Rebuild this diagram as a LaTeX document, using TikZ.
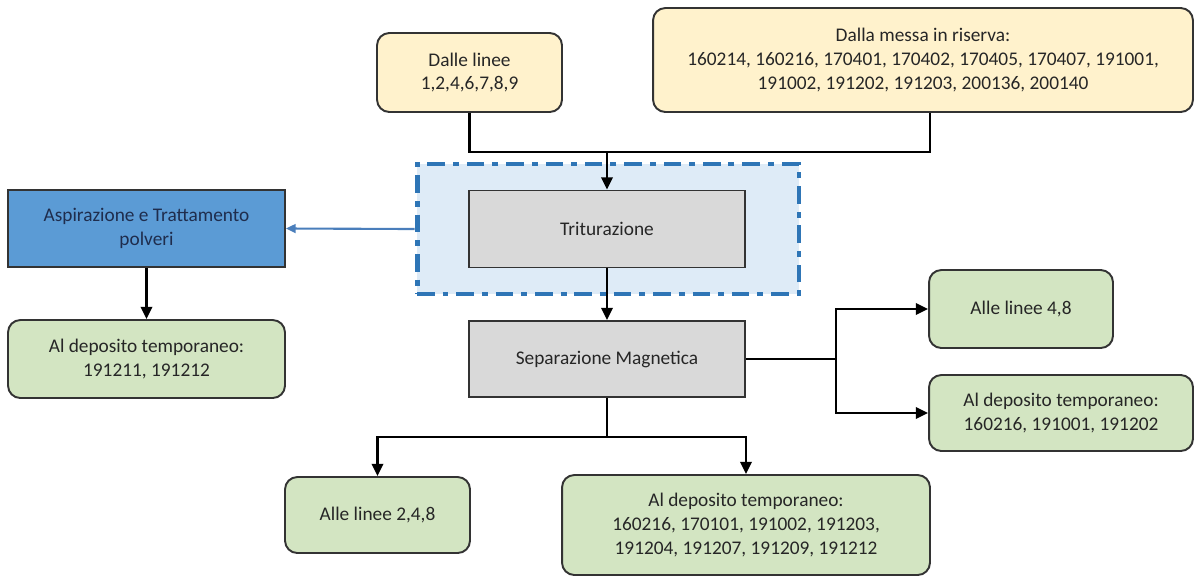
\documentclass[tikz,border=0pt]{standalone}
\usepackage{fontspec}
\setmainfont{Carlito}
\usetikzlibrary{arrows.meta}
\definecolor{yfill}{HTML}{FFF2CC}
\definecolor{gfill}{HTML}{D3E5C2}
\definecolor{bfill}{HTML}{5B9BD5}
\definecolor{grfill}{HTML}{D9D9D9}
\definecolor{lbfill}{HTML}{DEEBF7}
\definecolor{dashblue}{HTML}{2E75B6}
\definecolor{edge}{HTML}{333333}
\definecolor{txt}{HTML}{262626}
\definecolor{asptxt}{HTML}{1F2D4D}
\definecolor{bluearrow}{HTML}{4A7EBB}
\tikzset{
  base/.style={draw=edge, line width=1.1pt, inner sep=0pt, align=center, text=txt,
    font=\fontsize{11}{13.6}\selectfont},
  ybox/.style={base, fill=yfill, rounded corners=7pt},
  gbox/.style={base, fill=gfill, rounded corners=7pt},
  graybox/.style={base, fill=grfill},
  bluebox/.style={base, fill=bfill, text=asptxt},
  dashbox/.style={draw=dashblue, fill=lbfill, line width=2.8pt,
    dash pattern=on 10pt off 4.5pt on 3.4pt off 4.5pt},
  arr/.style={line width=1.4pt, -{Triangle[length=7pt,width=6.5pt]}},
  ln/.style={line width=1.4pt},
  barr/.style={line width=1.2pt, draw=bluearrow, -{Triangle[length=5.5pt,width=5pt]}}
}
\begin{document}
\begin{tikzpicture}[x=0.02cm, y=-0.02cm]
\useasboundingbox (0,0) rectangle (1195,576);
% inputs
\node[ybox, minimum width=3.7cm, minimum height=1.58cm] (dalle) at (469.5,72.5) {Dalle linee\\1,2,4,6,7,8,9};
\node[ybox, minimum width=10.8cm, minimum height=2.08cm] (messa) at (923,60) {Dalla messa in riserva:\\160214, 160216, 170401, 170402, 170405, 170407, 191001,\\191002, 191202, 191203, 200136, 200140};
% dashed area
\node[dashbox, minimum width=7.64cm, minimum height=2.6cm] (area) at (608,229) {};
\node[graybox, minimum width=5.52cm, minimum height=1.54cm] (trit) at (607,229) {Triturazione};
\node[graybox, minimum width=5.52cm, minimum height=1.52cm] (sep) at (607,359) {Separazione Magnetica};
% left
\node[bluebox, minimum width=5.54cm, minimum height=1.54cm] (asp) at (146.5,228.5) {Aspirazione e Trattamento\\polveri};
\node[gbox, minimum width=5.54cm, minimum height=1.56cm] (depL) at (146.5,359) {Al deposito temporaneo:\\191211, 191212};
% right
\node[gbox, minimum width=3.68cm, minimum height=1.56cm] (a48) at (1021,309) {Alle linee 4,8};
\node[gbox, minimum width=5.28cm, minimum height=1.52cm] (depR) at (1061,413) {Al deposito temporaneo:\\160216, 191001, 191202};
% bottom
\node[gbox, minimum width=3.7cm, minimum height=1.52cm] (a248) at (377.5,515) {Alle linee 2,4,8};
\node[gbox, minimum width=7.36cm, minimum height=2.0cm] (depB) at (746,525) {Al deposito temporaneo:\\160216, 170101, 191002, 191203,\\191204, 191207, 191209, 191212};
% junctions
\coordinate (j1) at (607,152);
\coordinate (j2) at (836,359);
\coordinate (j3) at (607,437);
% connectors
\draw[ln] (dalle.south) |- (j1);
\draw[ln] ([xshift=0.14cm]messa.south) |- (j1);
\draw[arr] (j1) -- (trit.north);
\draw[arr] (trit.south) -- (sep.north);
\draw[barr] (area.west) -- (asp.east);
\draw[arr] (asp.south) -- (depL.north);
\draw[ln] (sep.east) -- (j2);
\draw[arr] (j2) |- (a48.west);
\draw[arr] (j2) |- (depR.west);
\draw[ln] (sep.south) -- (j3);
\draw[arr] (j3) -| (a248.north);
\draw[arr] (j3) -| (depB.north);
\end{tikzpicture}
\end{document}
